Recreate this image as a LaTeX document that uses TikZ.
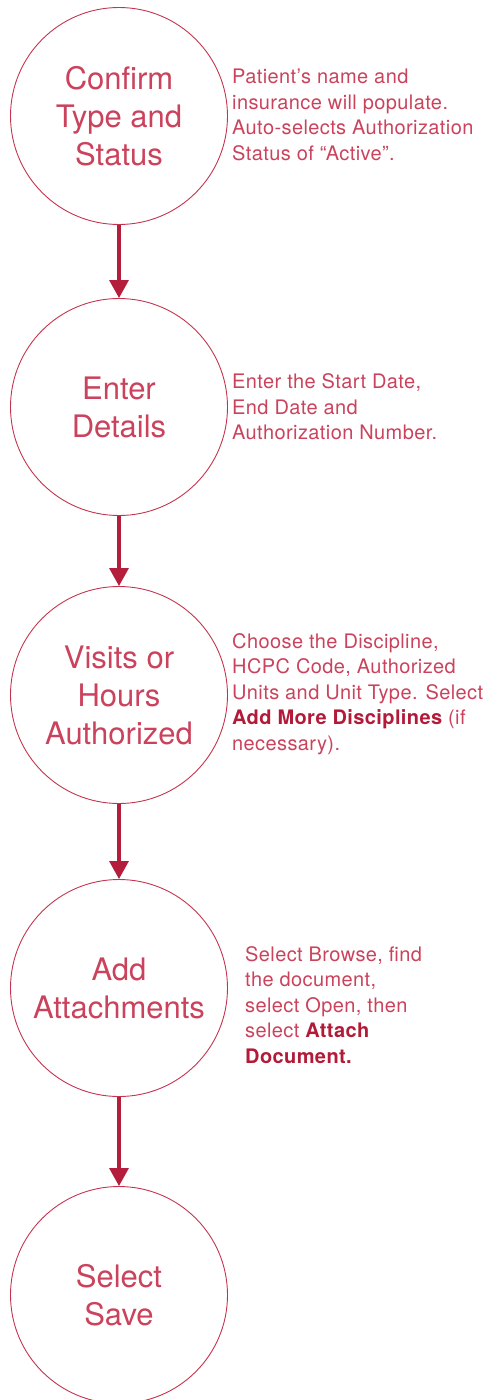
\documentclass[tikz,border=0pt]{standalone}
\usepackage{fontspec}
\setmainfont{TeX Gyre Heros}
\newfontfamily\sidefont{TeX Gyre Heros}[LetterSpace=2]
\usetikzlibrary{arrows.meta}
\definecolor{ringred}{RGB}{196,52,78}
\definecolor{txtred}{RGB}{202,66,92}
\definecolor{boldred}{RGB}{178,26,56}
\definecolor{arrred}{RGB}{180,30,60}
\tikzset{
  stepcircle/.style={circle, draw=ringred, line width=0.9pt, minimum size=217pt, inner sep=0pt,
    align=center, text=txtred, font=\fontsize{31}{38}\selectfont},
  sidenote/.style={anchor=west, inner sep=0pt, align=left, text=txtred,
    font=\sidefont\fontsize{20}{25.5}\selectfont},
  flowarrow/.style={draw=arrred, line width=3.3pt, -{Triangle[width=19pt,length=18pt]}},
}
\newcommand{\hl}[1]{\textcolor{boldred}{\bfseries #1}}
\begin{document}
\begin{tikzpicture}[x=1pt,y=-1pt]
\useasboundingbox (0,0) rectangle (491,1400);
\node[stepcircle] (c1) at (119,116) {Confirm\\Type and\\Status};
\node[stepcircle] (c2) at (119,407) {Enter\\Details};
\node[stepcircle] (c3) at (119,695) {Visits or\\Hours\\Authorized};
\node[stepcircle] (c4) at (119,988) {Add\\Attachments};
\node[stepcircle] (c5) at (119,1295) {Select\\Save};
\node[sidenote] (t1) at (232,115) {Patient’s name and\\insurance will populate.\\Auto-selects Authorization\\Status of “Active”.};
\node[sidenote] (t2) at (232,407) {Enter the Start Date,\\End Date and\\Authorization Number.};
\node[sidenote] (t3) at (232,694) {Choose the Discipline,\\HCPC Code, Authorized\\Units and Unit Type. Select\\\hl{Add More Disciplines} (if\\necessary).};
\node[sidenote] (t4) at (245,1005) {Select Browse, find\\the document,\\select Open, then\\select \hl{Attach}\\\hl{Document.}};
\draw[flowarrow] (c1.south) -- (c2.north);
\draw[flowarrow] (c2.south) -- (c3.north);
\draw[flowarrow] (c3.south) -- (c4.north);
\draw[flowarrow] (c4.south) -- (c5.north);
\end{tikzpicture}
\end{document}
